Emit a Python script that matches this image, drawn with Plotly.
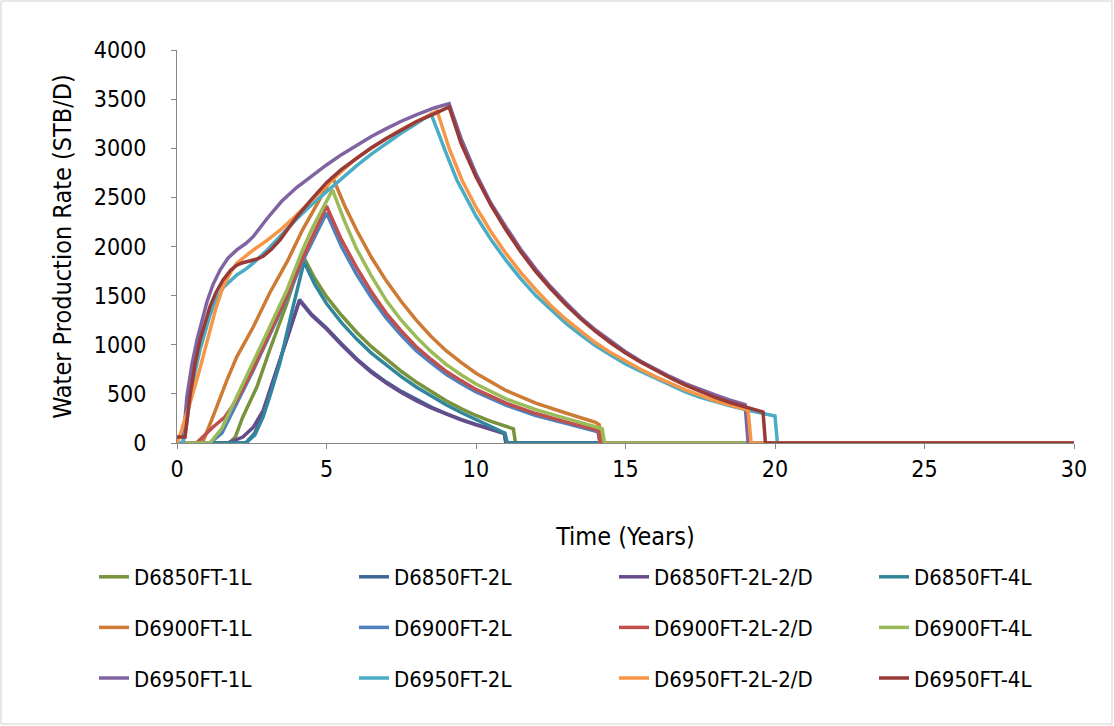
import plotly.graph_objects as go

# ---- data (time in years, water production rate in STB/D) ----
names = ["D6850FT-1L", "D6850FT-2L", "D6850FT-2L-2/D", "D6850FT-4L",
         "D6900FT-1L", "D6900FT-2L", "D6900FT-2L-2/D", "D6900FT-4L",
         "D6950FT-1L", "D6950FT-2L", "D6950FT-2L-2/D", "D6950FT-4L"]
colors = ["#77933C", "#3E6699", "#664C8B", "#31869B",
          "#CD7B34", "#4F81BD", "#C0504D", "#9BBB59",
          "#8064A2", "#4BACC6", "#F79646", "#983A37"]

t_6850_1L = [0, 1.75, 1.95, 2.2, 2.67, 3.1, 3.68, 4.2, 4.6, 5, 5.5, 6, 6.5, 7, 7.5, 8, 8.5, 9, 9.5, 10, 10.5, 11, 11.25, 11.32, 30]
v_6850_1L = [0, 0, 60, 265, 570, 947, 1425, 1915, 1680, 1490, 1300, 1130, 980, 850, 730, 620, 520, 430, 350, 280, 220, 165, 145, 0, 0]

t_6850_2L = [0, 2.3, 2.6, 2.88, 3.2, 3.6, 4.1, 4.5, 5, 5.5, 6, 6.5, 7, 7.5, 8, 8.5, 9, 9.5, 10, 10.5, 10.95, 11.0, 30]
v_6850_2L = [0, 0, 100, 300, 610, 1000, 1460, 1310, 1170, 1010, 860, 730, 620, 525, 440, 365, 300, 240, 190, 140, 100, 0, 0]

t_6850_2L2D = [0, 1.7, 2.2, 2.55, 2.88, 3.2, 3.6, 4.1, 4.5, 5, 5.5, 6, 6.5, 7, 7.5, 8, 8.5, 9, 9.5, 10, 10.5, 10.95, 11.0, 30]
v_6850_2L2D = [0, 0, 60, 160, 330, 620, 1000, 1450, 1300, 1160, 1000, 850, 720, 610, 515, 430, 358, 295, 235, 185, 135, 95, 0, 0]

t_6850_4L = [0, 2.3, 2.6, 2.88, 3.15, 3.44, 3.88, 4.25, 4.6, 5, 5.5, 6, 6.5, 7, 7.5, 8, 8.5, 9, 9.5, 10, 10.5, 10.97, 11.05, 30]
v_6850_4L = [0, 0, 80, 265, 520, 815, 1385, 1843, 1620, 1420, 1225, 1060, 915, 790, 675, 570, 475, 390, 310, 240, 165, 100, 0, 0]

t_6900_1L = [0, 0.85, 1.2, 1.67, 2.0, 2.55, 3.1, 3.68, 4.2, 4.7, 5.2, 5.6, 6, 6.5, 7, 7.5, 8, 8.5, 9, 9.5, 10, 11, 12, 13, 14, 14.12, 14.2, 30]
v_6900_1L = [0, 0, 265, 640, 877, 1180, 1527, 1843, 2170, 2440, 2710, 2420, 2170, 1890, 1650, 1440, 1250, 1085, 940, 820, 710, 535, 405, 305, 210, 185, 0, 0]

t_6900_2L = [0, 1.1, 1.5, 2.0, 2.55, 3.1, 3.68, 4.2, 4.6, 5.0, 5.5, 6, 6.5, 7, 7.5, 8, 8.5, 9, 9.5, 10, 11, 12, 13, 14, 14.08, 14.15, 30]
v_6900_2L = [0, 0, 100, 400, 740, 1100, 1480, 1850, 2100, 2342, 2000, 1720, 1480, 1270, 1095, 940, 815, 700, 605, 520, 385, 280, 200, 125, 115, 0, 0]

t_6900_2L2D = [0, 0.65, 1.2, 1.6, 2.0, 2.55, 3.1, 3.68, 4.2, 4.6, 5.0, 5.5, 6, 6.5, 7, 7.5, 8, 8.5, 9, 9.5, 10, 11, 12, 13, 14, 14.08, 14.15, 30]
v_6900_2L2D = [0, 0, 160, 265, 440, 760, 1120, 1500, 1880, 2150, 2413, 2070, 1790, 1540, 1320, 1140, 980, 850, 730, 635, 545, 405, 300, 215, 140, 130, 0, 0]

t_6900_4L = [0, 1.1, 1.5, 2.0, 2.55, 3.1, 3.68, 4.2, 4.55, 5.2, 5.6, 6, 6.5, 7, 7.5, 8, 8.5, 9, 9.5, 10, 11, 12, 13, 14, 14.22, 14.3, 30]
v_6900_4L = [0, 0, 150, 470, 815, 1180, 1560, 1965, 2200, 2576, 2260, 1980, 1700, 1450, 1250, 1080, 930, 800, 695, 600, 450, 340, 250, 170, 145, 0, 0]

t_6950_1L = [0, 0.2, 0.33, 0.5, 0.67, 0.85, 1.0, 1.2, 1.44, 1.7, 2.0, 2.3, 2.55, 3.0, 3.5, 4, 4.5, 5, 5.5, 6, 6.5, 7, 7.5, 8, 8.6, 9.1,
             9.5, 10, 10.5, 11, 11.5, 12, 12.5, 13, 13.5, 14, 14.5, 15, 15.5, 16, 16.5, 17, 17.5, 18, 18.5, 19.0, 19.1, 30]
v_6950_1L = [0, 0, 470, 800, 1050, 1260, 1435, 1610, 1760, 1880, 1965, 2030, 2100, 2280, 2460, 2600, 2720, 2830, 2935, 3030, 3120, 3200, 3275, 3340, 3410, 3455,
             3100, 2740, 2440, 2200, 1970, 1770, 1590, 1430, 1280, 1150, 1035, 930, 835, 750, 675, 605, 545, 490, 437, 390, 0, 0]

t_6950_2L = [0, 0.2, 0.3, 0.43, 0.6, 0.77, 1.1, 1.3, 1.54, 1.8, 2.0, 2.3, 2.55, 3.0, 3.44, 4, 4.5, 5, 5.5, 6, 6.5, 7, 7.5, 8, 8.5,
             9.0, 9.36, 10, 10.5, 11, 11.5, 12, 12.5, 13, 13.5, 14, 14.5, 15, 15.5, 16, 16.5, 17, 17.5, 18, 18.5, 19, 19.5, 20.0, 20.08, 30]
v_6950_2L = [0, 0, 150, 450, 720, 950, 1300, 1460, 1580, 1660, 1710, 1770, 1830, 1960, 2100, 2280, 2425, 2560, 2695, 2820, 2940, 3050, 3155, 3250, 3350,
             2950, 2677, 2310, 2070, 1860, 1670, 1500, 1355, 1220, 1100, 990, 895, 805, 730, 660, 590, 520, 465, 420, 378, 340, 305, 275, 0, 0]

t_6950_2L2D = [0, 0.1, 0.25, 0.43, 0.77, 1.1, 1.3, 1.54, 1.8, 2.0, 2.3, 2.55, 3.0, 3.5, 4.0, 4.5, 5, 5.5, 6, 6.5, 7, 7.5, 8, 8.7,
               9.1, 9.53, 10, 10.5, 11, 11.5, 12, 12.5, 13, 13.5, 14, 14.5, 15, 15.5, 16, 16.5, 17, 17.5, 18, 18.5, 19.1, 19.2, 30]
v_6950_2L2D = [0, 80, 230, 400, 760, 1150, 1370, 1590, 1740, 1830, 1910, 1965, 2060, 2180, 2320, 2470, 2620, 2765, 2900, 3005, 3100, 3190, 3270, 3380,
               3000, 2677, 2400, 2150, 1930, 1735, 1560, 1400, 1260, 1135, 1020, 920, 830, 750, 675, 605, 540, 485, 430, 385, 336, 0, 0]

t_6950_4L = [0, 0.27, 0.43, 0.6, 0.77, 0.95, 1.1, 1.3, 1.54, 1.8, 2.0, 2.2, 2.44, 2.65, 2.88, 3.15, 3.44, 3.68, 4.0, 4.5, 5, 5.5, 6, 6.5, 7, 7.5, 8, 8.6, 9.1,
             9.5, 10, 10.5, 11, 11.5, 12, 12.5, 13, 13.5, 14, 14.5, 15, 15.5, 16, 16.5, 17, 17.5, 18, 18.5, 19, 19.6, 19.68, 30]
v_6950_4L = [60, 60, 470, 800, 1050, 1230, 1385, 1530, 1660, 1760, 1810, 1835, 1850, 1870, 1900, 1970, 2066, 2168, 2300, 2480, 2650, 2785, 2900, 3005, 3100, 3190, 3270, 3350, 3420,
             3050, 2710, 2420, 2170, 1945, 1745, 1570, 1410, 1265, 1135, 1020, 915, 825, 740, 662, 590, 525, 465, 412, 365, 315, 0, 0]

times = [t_6850_1L, t_6850_2L, t_6850_2L2D, t_6850_4L,
         t_6900_1L, t_6900_2L, t_6900_2L2D, t_6900_4L,
         t_6950_1L, t_6950_2L, t_6950_2L2D, t_6950_4L]
values = [v_6850_1L, v_6850_2L, v_6850_2L2D, v_6850_4L,
          v_6900_1L, v_6900_2L, v_6900_2L2D, v_6900_4L,
          v_6950_1L, v_6950_2L, v_6950_2L2D, v_6950_4L]

x_ticks = [0, 5, 10, 15, 20, 25, 30]
y_ticks = [0, 500, 1000, 1500, 2000, 2500, 3000, 3500, 4000]

FONT = "DejaVu Sans Condensed, Liberation Sans Narrow, Liberation Sans, sans-serif"

W, H = 1114, 726
L, R, T, B = 177, 40, 50, 283
pw, ph = W - L - R, H - T - B

def px_x(p):
    return (p - L) / pw

def px_y(p):
    return (H - B - p) / ph

# one vertical legend per column (4 columns x 3 rows)
legend_ids = ["legend", "legend2", "legend3", "legend4"]
col_text_px = [133, 393, 653, 913]

fig = go.Figure()
for i, (n, c, tx, vy) in enumerate(zip(names, colors, times, values)):
    fig.add_trace(go.Scatter(x=tx, y=vy, mode="lines", name=n,
                             line=dict(color=c, width=3.5),
                             legend=legend_ids[i % 4], legendgroup=n))

leg_common = dict(orientation="v", xanchor="left", yanchor="top",
                  font=dict(family=FONT, size=22, color="#000000"),
                  bgcolor="rgba(0,0,0,0)", itemwidth=30, traceorder="grouped",
                  tracegroupgap=19)
layout_legends = {}
for lid, tx_px in zip(legend_ids, col_text_px):
    layout_legends[lid] = dict(leg_common, x=px_x(tx_px - 39), y=px_y(556))

fig.update_layout(
    width=W, height=H,
    margin=dict(l=L, r=R, t=T, b=B),
    paper_bgcolor="white", plot_bgcolor="white",
    showlegend=True,
    **layout_legends,
    xaxis=dict(range=[0, 30], tickvals=x_ticks, ticktext=[str(v) for v in x_ticks],
               showgrid=False, zeroline=False, showline=True, linecolor="#878787", linewidth=1,
               ticks="outside", ticklen=5, tickcolor="#878787",
               tickfont=dict(family=FONT, size=23, color="#000000"),
               title=dict(text="Time (Years)", font=dict(family=FONT, size=25, color="#000000"), standoff=46)),
    yaxis=dict(range=[0, 4000], tickvals=y_ticks, ticktext=[str(v) for v in y_ticks],
               showgrid=False, zeroline=False, showline=True, linecolor="#878787", linewidth=1,
               ticks="outside", ticklen=5, tickcolor="#878787", ticklabelstandoff=20,
               tickfont=dict(family=FONT, size=23, color="#000000"),
               title=dict(text="Water Production Rate (STB/D)", font=dict(family=FONT, size=25, color="#000000"), standoff=14)),
)

fig.add_shape(type="rect", xref="paper", yref="paper",
              x0=px_x(1), x1=px_x(W - 2), y0=px_y(H - 2), y1=px_y(1),
              line=dict(color="#D0D0D0", width=1), fillcolor="rgba(0,0,0,0)", layer="below")

fig.write_html("out.html")
